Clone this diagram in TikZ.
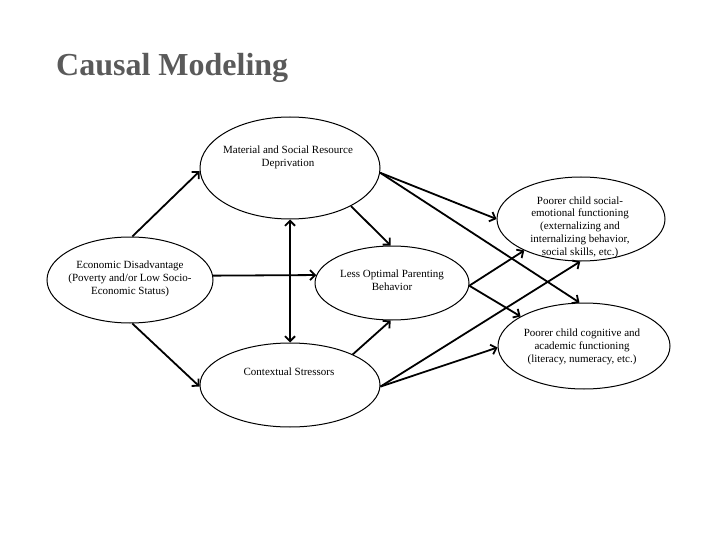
\documentclass[tikz,border=0pt]{standalone}
\usepackage{fontspec}
\setmainfont{Liberation Serif}
\usetikzlibrary{shapes.geometric,arrows.meta}
\definecolor{titlegray}{RGB}{90,90,90}
\begin{document}
\begin{tikzpicture}[x=1pt,y=-1pt,
  oval/.style={ellipse, draw=black, line width=1pt, fill=white, inner sep=0pt},
  txt/.style={align=center, font=\fontsize{11}{12.8}\selectfont, inner sep=0pt},
  link/.style={line width=1.8pt, -{Straight Barb[length=5pt,width=10pt]}},
  both/.style={line width=1.8pt, {Straight Barb[length=5pt,width=10pt]}-{Straight Barb[length=5pt,width=10pt]}}]
\useasboundingbox[fill=white] (0,0) rectangle (720,540);
\node[anchor=base west, font=\fontsize{32}{36}\selectfont\bfseries, text=titlegray, inner sep=0pt] (title) at (56,76) {Causal Modeling};

\node[oval, minimum width=180pt, minimum height=102pt] (mat) at (290,168) {};
\node[txt] (matt) at (288,157) {Material and Social Resource\\Deprivation};

\node[oval, minimum width=166pt, minimum height=86pt] (eco) at (130,280) {};
\node[txt] (ecot) at (130,279) {Economic Disadvantage\\(Poverty and/or Low Socio-\\Economic Status)};

\node[oval, minimum width=154pt, minimum height=74pt] (less) at (392,283) {};
\node[txt] (lesst) at (392,280) {Less Optimal Parenting\\Behavior};

\node[oval, minimum width=180pt, minimum height=84pt] (ctx) at (290,385) {};
\node[txt] (ctxt) at (289,372) {Contextual Stressors};

\node[oval, minimum width=168pt, minimum height=84pt] (soc) at (581,219) {};
\node[txt] (soct) at (580,227) {Poorer child social-\\emotional functioning\\(externalizing and\\internalizing behavior,\\social skills, etc.)};

\node[oval, minimum width=172pt, minimum height=86pt] (cog) at (584,346) {};
\node[txt] (cogt) at (582,347) {Poorer child cognitive and\\academic functioning\\(literacy, numeracy, etc.)};

\draw[link] (eco.87) -- (mat.182);
\draw[link] (eco.3) -- (less.174);
\draw[link] (eco.-87) -- (ctx.181);
\draw[both] (mat.south) -- (ctx.north);
\draw[link] (mat.-32) -- (less.92);
\draw[link] (mat.-3) -- (soc.180);
\draw[link] (mat.-3) -- (cog.96);
\draw[link] (less.-2) -- (soc.209);
\draw[link] (less.-2) -- (cog.155);
\draw[link] (ctx.26) -- (less.-92);
\draw[link] (ctx.-1) -- (soc.-91);
\draw[link] (ctx.-1) -- (cog.181);
\end{tikzpicture}
\end{document}
